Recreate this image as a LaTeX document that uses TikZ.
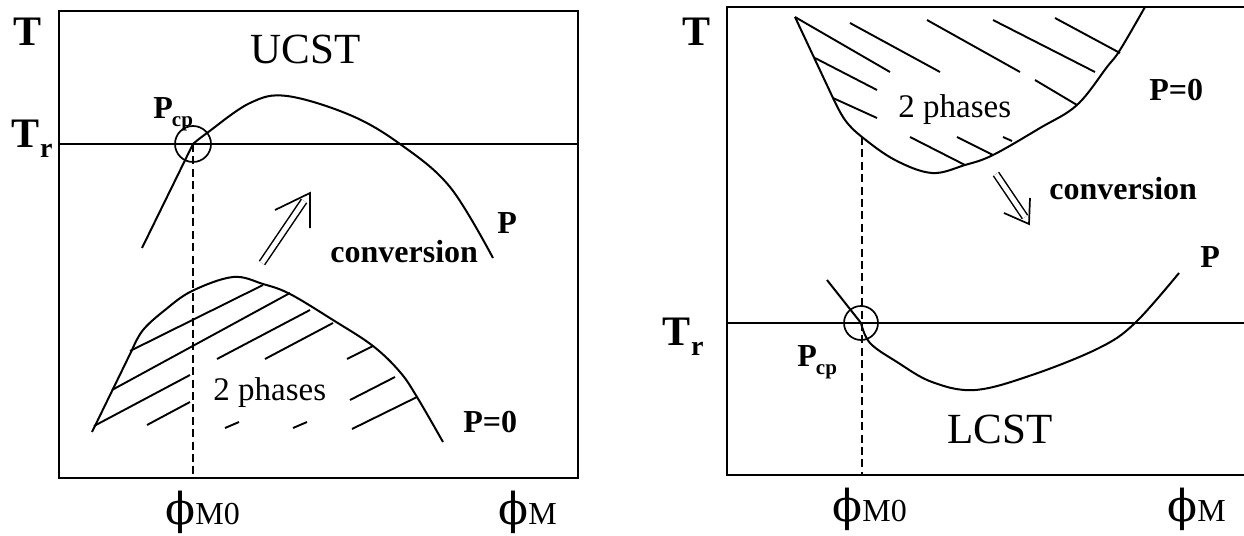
\documentclass[tikz,border=0pt]{standalone}
\usepackage{fontspec}
\setmainfont{Liberation Serif}
\newfontfamily\phifont{DejaVu Serif}
\usetikzlibrary{positioning}

% composition label: phi with a small tail
\newcommand{\phim}[1]{{\phifont\fontsize{22}{22}\selectfont ϕ}{\fontsize{16}{16}\selectfont M#1}}
\newcommand{\pcp}{P\kern-0.5pt\raisebox{-4pt}{\fontsize{10.5}{10.5}\selectfont cp}}
\newcommand{\tr}{T\kern0.3pt\raisebox{-5pt}{\fontsize{14}{14}\selectfont r}}

\begin{document}
\begin{tikzpicture}[x=0.5pt, y=-0.5pt,
    boxline/.style={line width=1.2pt},
    curveline/.style={line width=1pt},
    hatchline/.style={line width=0.95pt},
    guideline/.style={line width=0.8pt, dash pattern=on 4pt off 2.2pt},
    shaftline/.style={double, double distance=2.4pt, line width=0.75pt},
    headline/.style={line width=0.85pt},
    axislbl/.style={inner sep=0pt, anchor=base west, font=\bfseries\fontsize{21}{21}\selectfont},
    taglbl/.style={inner sep=0pt, anchor=base west, font=\bfseries\fontsize{16}{16}\selectfont},
    regionlbl/.style={inner sep=0pt, anchor=base west, font=\fontsize{21.5}{22}\selectfont},
    phaselbl/.style={inner sep=0pt, anchor=base west, font=\fontsize{16.5}{17}\selectfont},
    complbl/.style={inner sep=0pt, anchor=base west}
]
\useasboundingbox (0,0) rectangle (1244,536);

%% UCST panel
\draw[boxline] (59,11) rectangle (578,478);
\coordinate (cpL) at (193,144);
\coordinate (cpLb) at (193,478);
\draw[curveline] (59,144) -- (578,144);
\draw[guideline] (cpL) -- (cpLb);
\draw[line width=0.85pt] (cpL) circle[radius=9pt];

\draw[curveline] (142,248) -- plot[smooth, tension=0.6] coordinates
    {(cpL) (207,133) (250,103) (287,96) (350,115) (400,144) (450,187) (493,258)};
\draw[curveline] (92,432) -- plot[smooth, tension=0.6] coordinates
    {(132,350) (143,330) (165,310) (192,291) (233,277) (263,284) (290,294) (333,320) (373,346) (400,372) (417,397) (443,442)};

\draw[hatchline] (130,351) -- (263,285) (112,390) -- (290,293) (94,426) -- (190,375)
    (147,425) -- (190,402) (217,359) -- (310,310) (265,359) -- (333,323)
    (347,359) -- (373,346) (350,400) -- (395,377) (352,429) -- (417,397)
    (225,428) -- (239,422) (293,428) -- (307,422);

\coordinate (upA) at (262,263);
\coordinate (upB) at (304,201);
\coordinate (upTip) at (310,193);
\draw[shaftline] (upA) -- (upB);
\draw[headline] (275,210) -- (upTip) -- (310,228);

\node[axislbl] (TL) at (13,45) {T};
\node[axislbl] (TrL) at (11,147) {\tr};
\node[regionlbl] (ucst) at (250,63) {UCST};
\node[taglbl] (pcpL) at (153,118) {\pcp};
\node[taglbl] (PL) at (497,233) {P};
\node[taglbl] (convL) at (330,262) {conversion};
\node[phaselbl] (twoL) at (213,400) {2 phases};
\node[taglbl] (P0L) at (463,432) {P=0};
\node[complbl] (phiM0L) at (165,524) {\phim{0}};
\node[complbl] (phiML) at (498,524) {\phim{}};

%% LCST panel
\draw[boxline] (1244,7) -- (727,7) -- (727,475) -- (1244,475);
\coordinate (cpR) at (861,323);
\coordinate (cpRt) at (862,137);
\coordinate (cpRb) at (862,475);
\draw[curveline] (727,323) -- (1244,323);
\draw[guideline] (cpRt) -- (cpRb);
\draw[line width=0.85pt] (cpR) circle[radius=8.5pt];

\draw[curveline] (795,17) -- plot[smooth, tension=0.6] coordinates
    {(833,98) (845,120) (862,137) (895,160) (932,173) (965,165) (993,155) (1040,128) (1077,105) (1107,67) (1120,50) (1145,7)};
\draw[curveline] (827,280) -- plot[smooth, tension=0.6] coordinates
    {(cpR) (870,343) (897,362) (932,382) (975,390) (1032,375) (1099,348) (1135,323) (1179,273)};

\draw[hatchline] (795,17) -- (890,72) (815,58) -- (877,90) (833,98) -- (877,118)
    (850,23) -- (940,72) (927,20) -- (1020,72) (993,20) -- (1095,72)
    (1055,18) -- (1120,53) (1035,80) -- (1077,105) (910,137) -- (965,165)
    (957,137) -- (993,155) (1003,137) -- (1012,141);

\coordinate (dnA) at (996,174);
\coordinate (dnB) at (1025,217);
\coordinate (dnTip) at (1029,224);
\draw[shaftline] (dnA) -- (dnB);
\draw[headline] (1004,213) -- (dnTip) -- (1030,198);

\node[axislbl] (TR) at (682,45) {T};
\node[axislbl] (TrR) at (662,345) {\tr};
\node[regionlbl] (lcst) at (947,443) {LCST};
\node[taglbl] (pcpR) at (797,366) {\pcp};
\node[taglbl] (PR) at (1200,267) {P};
\node[taglbl] (convR) at (1049,199) {conversion};
\node[phaselbl] (twoR) at (898,117) {2 phases};
\node[taglbl] (P0R) at (1149,100) {P=0};
\node[complbl] (phiM0R) at (832,521) {\phim{0}};
\node[complbl] (phiMR) at (1167,521) {\phim{}};
\end{tikzpicture}
\end{document}
